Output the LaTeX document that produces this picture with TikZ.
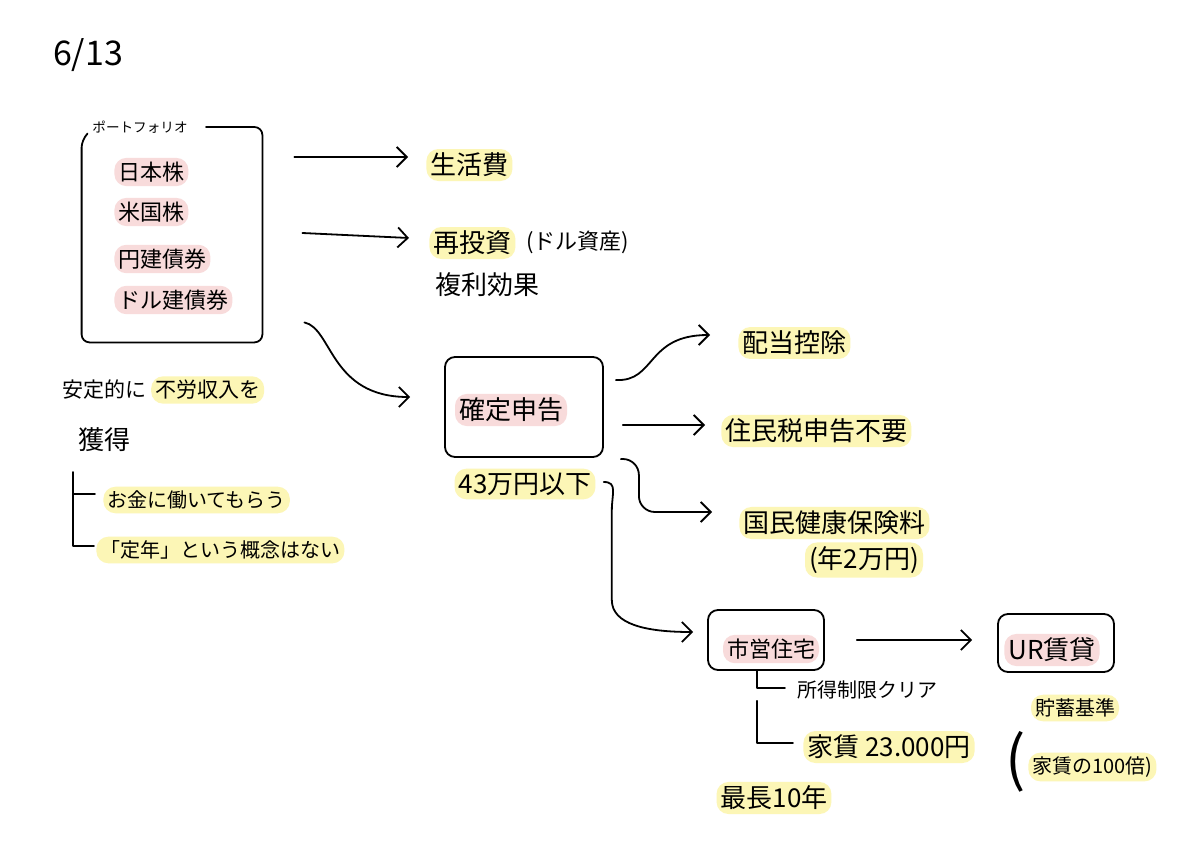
\documentclass[tikz,border=0pt]{standalone}
\usepackage{fontspec}
\newfontfamily\jpfont{Noto Sans CJK JP}
\usepackage{tikz}
\usetikzlibrary{arrows.meta,positioning,calc}
\definecolor{ntyellowbg}{RGB}{252,246,182}
\definecolor{ntpinkbg}{RGB}{248,219,219}
\tikzset{
  ntline/.style={line width=0.9pt,line cap=round,line join=round},
  ntedge/.style={ntline,->,>={Straight Barb[length=5pt,width=10pt]}},
  ntframe/.style={draw=black,line width=0.9pt,rounded corners=5pt,inner sep=0pt},
  nttext/.style={font=\jpfont\fontsize{13}{15}\selectfont,inner sep=2pt},
  ntmid/.style={font=\jpfont\fontsize{11}{13}\selectfont,inner sep=2pt},
  ntleft/.style={font=\jpfont\fontsize{10.5}{12}\selectfont,inner sep=2pt},
  ntsmall/.style={font=\jpfont\fontsize{10}{12}\selectfont,inner sep=2pt},
  nttiny/.style={font=\jpfont\fontsize{6.8}{8}\selectfont,inner sep=1pt},
  ntdate/.style={font=\jpfont\fontsize{17}{19}\selectfont,inner sep=0pt},
  ntyellow/.style={fill=ntyellowbg,rounded corners=6pt},
  ntpink/.style={fill=ntpinkbg,rounded corners=6pt}
}

\begin{document}
\begin{tikzpicture}[x=0.5pt,y=-0.5pt]
  \fill[white] (0,0) rectangle (1200,857);
  \useasboundingbox (0,0) rectangle (1200,857);
  \node[ntdate] (date) at (88,55) {6/13};
  \node[nttiny,anchor=west] (pft) at (90,127) {ポートフォリオ};
  \node[minimum width=90pt,minimum height=107pt,inner sep=0pt] (pf) at (172,235) {};
  \draw[ntline,rounded corners=4pt] ($(pft.east)+(8pt,0)$) -| (pf.south east) -- (pf.south west) -- ($(pf.north west)+(0,-6pt)$) -- ++(3pt,3pt);
  \node[ntmid,ntpink,anchor=west] (jp) at (114,172) {日本株};
  \node[ntmid,ntpink,anchor=west] (us) at (114,212) {米国株};
  \node[ntmid,ntpink,anchor=west] (yb) at (114,259) {円建債券};
  \node[ntmid,ntpink,anchor=west] (db) at (114,300) {ドル建債券};
  \node[nttext,ntyellow,anchor=west] (sk) at (426,165) {生活費};
  \node[nttext,ntyellow,anchor=west] (rt) at (429,243) {再投資};
  \node[ntmid,anchor=west] (rtd) at (522,242) {(ドル資産)};
  \node[nttext,anchor=west] (fr) at (431,285) {複利効果};
  \draw[ntedge] ($(pf.east |- sk.west)+(16pt,4pt)$) -- ($(sk.west)+(-9pt,4pt)$);
  \draw[ntedge] ($(pf.east |- rt.west)+(20pt,5pt)$) -- ($(rt.west)+(-10pt,2.5pt)$);
  \node[ntframe,minimum width=79pt,minimum height=50pt] (kk) at (524,407) {};
  \node[nttext,ntpink] (kkt) at (511,410) {確定申告};
  \node[nttext,ntyellow] (man) at (525,484) {43万円以下};
  \draw[ntedge] ($(pf.south east)+(21pt,10pt)$) .. controls +(14pt,-3pt) and +(-40pt,0pt) .. ($(kk.west)+(-17pt,5pt)$);
  \node[nttext,ntyellow,anchor=west] (hk) at (738,343) {配当控除};
  \node[nttext,ntyellow,anchor=west] (jm) at (721,431) {住民税申告不要};
  \node[nttext,ntyellow,anchor=west] (kh) at (739,523) {国民健康保険料};
  \node[nttext,ntyellow] (nm) at (864,560) {(年2万円)};
  \draw[ntedge] ($(kk.east)+(6pt,13.5pt)$) .. controls +(20pt,-1pt) and +(-32pt,0pt) .. ($(hk.west)+(-14pt,4pt)$);
  \draw[ntedge] ($(kk.east)+(9.5pt,-9pt)$) -- ($(jm.west)+(-8pt,3pt)$);
  \draw[ntedge,rounded corners=8pt] ($(kk.east)+(8.5pt,-26pt)$) -- ++(9pt,0) |- ($(kh.west)+(-13.5pt,5.5pt)$);
  \node[ntframe,minimum width=58pt,minimum height=30pt] (sj) at (766,640) {};
  \node[ntmid,ntpink] (sjt) at (771,649) {市営住宅};
  \draw[ntedge] ($(man.east)+(4pt,1pt)$) .. controls +(7pt,0pt) and +(0pt,8pt) .. ++(4pt,-14pt) -- ++(0pt,-45pt) .. controls +(0pt,-12pt) and +(-24pt,0pt) .. ($(sj.west)+(-7pt,4pt)$);
  \node[ntframe,minimum width=58pt,minimum height=29pt] (ur) at (1056,643) {};
  \node[nttext,ntpink] (urt) at (1052,650) {UR賃貸};
  \draw[ntedge] ($(sj.east)+(16pt,0pt)$) -- ($(ur.west)+(-12.5pt,1.5pt)$);
  \node[ntsmall,anchor=west] (sy) at (793,690) {所得制限クリア};
  \node[nttext,ntyellow,anchor=west] (yc) at (803,747) {家賃 23.000円};
  \draw[ntline] ($(sj.south)+(-4.5pt,0pt)$) |- ($(sy.west)+(-4pt,1pt)$);
  \draw[ntline] ($(sj.south)+(-4.5pt,-15pt)$) |- ($(yc.west)+(-5pt,2pt)$);
  \node[nttext,ntyellow] (sc) at (774,798) {最長10年};
  \node[ntsmall,ntyellow] (ck) at (1075,708) {貯蓄基準};
  \node[font=\jpfont\fontsize{30}{32}\selectfont,inner sep=0pt] (lp) at (1016,762) {(};
  \node[ntsmall,ntyellow,anchor=west] (kb) at (1028,767) {家賃の100倍)};
  \node[ntleft,anchor=west] (an) at (58,390) {安定的に};
  \node[ntleft,ntyellow,right=0pt of an] (fs) {不労収入を};
  \node[nttext,anchor=west] (kt) at (74,440) {獲得};
  \node[ntsmall,ntyellow,anchor=west] (ok) at (103,500) {お金に働いてもらう};
  \node[ntsmall,ntyellow,anchor=west] (tn) at (96,550) {「定年」という概念はない};
  \draw[ntline] ($(ok.west)+(-15pt,14pt)$) |- ($(ok.west)+(-4pt,3pt)$);
  \draw[ntline] ($(ok.west)+(-15pt,3pt)$) |- ($(tn.west)+(-1pt,2pt)$);
\end{tikzpicture}
\end{document}
